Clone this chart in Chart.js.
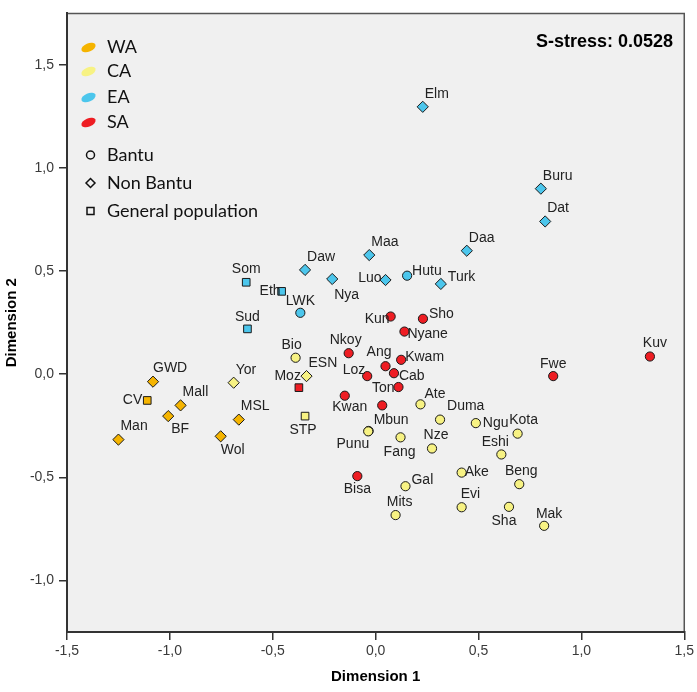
<!DOCTYPE html>
<html>
<head>
<meta charset="utf-8">
<script src="https://cdn.jsdelivr.net/npm/chart.js@4"></script>
<style>body{margin:0;background:#fff}</style>
</head>
<body>
<canvas id="mds" width="697" height="692"></canvas>
<script>
// Datos MDS: Dimension 1 (x), Dimension 2 (y); tipo B = Bantu, N = Non Bantu, G = General population
const waNames = ['GWD', 'CV', 'Mall', 'BF', 'Man', 'Wol', 'MSL'];
const waX = [-1.082, -1.110, -0.948, -1.008, -1.250, -0.753, -0.665];
const waY = [-0.036, -0.127, -0.151, -0.203, -0.317, -0.301, -0.220];
const waType = ['N', 'G', 'N', 'N', 'N', 'N', 'N'];

const caNames = ['Yor', 'ESN', 'Bio', 'STP', 'Ate', 'Duma', 'Ngu', 'Kota', 'Mbun', 'Punu', 'Fang', 'Nze', 'Eshi', 'Ake', 'Beng', 'Gal', 'Evi', 'Sha', 'Mits', 'Mak'];
const caX = [-0.690, -0.336, -0.389, -0.343, 0.218, 0.313, 0.487, 0.690, -0.034, -0.036, 0.121, 0.274, 0.611, 0.418, 0.698, 0.145, 0.418, 0.648, 0.097, 0.819];
const caY = [-0.041, -0.009, 0.080, -0.203, -0.146, -0.220, -0.237, -0.288, -0.275, -0.277, -0.306, -0.360, -0.389, -0.477, -0.533, -0.543, -0.645, -0.643, -0.683, -0.735];
const caType = ['N', 'N', 'B', 'G', 'B', 'B', 'B', 'B', 'B', 'B', 'B', 'B', 'B', 'B', 'B', 'B', 'B', 'B', 'B', 'B'];

const eaNames = ['Elm', 'Buru', 'Dat', 'Daa', 'Maa', 'Luo', 'Hutu', 'Turk', 'Nya', 'Daw', 'Som', 'Eth', 'LWK', 'Sud'];
const eaX = [0.229, 0.803, 0.824, 0.443, -0.031, 0.048, 0.153, 0.317, -0.211, -0.343, -0.629, -0.457, -0.366, -0.623];
const eaY = [1.297, 0.900, 0.741, 0.599, 0.578, 0.457, 0.478, 0.438, 0.462, 0.506, 0.446, 0.402, 0.298, 0.220];
const eaType = ['N', 'N', 'N', 'N', 'N', 'N', 'B', 'N', 'N', 'N', 'G', 'G', 'B', 'G'];

const saNames = ['Kun', 'Sho', 'Nyane', 'Nkoy', 'Ang', 'Kwam', 'Loz', 'Cab', 'Ton', 'Kwan', '', 'Bisa', 'Fwe', 'Kuv', 'Moz'];
const saX = [0.073, 0.230, 0.140, -0.131, 0.048, 0.124, -0.041, 0.089, 0.111, -0.150, 0.032, -0.089, 0.863, 1.333, -0.373];
const saY = [0.280, 0.269, 0.207, 0.102, 0.039, 0.070, -0.009, 0.005, -0.062, -0.104, -0.151, -0.494, -0.009, 0.086, -0.065];
const saType = ['B', 'B', 'B', 'B', 'B', 'B', 'B', 'B', 'B', 'B', 'B', 'B', 'B', 'B', 'G'];

const regionNames = ['WA', 'CA', 'EA', 'SA'];
const groupNames = ['Bantu', 'Non Bantu', 'General population'];
const xTicks = [-1.5, -1.0, -0.5, 0.0, 0.5, 1.0, 1.5];
const yTicks = [-1.0, -0.5, 0.0, 0.5, 1.0, 1.5];
const stressText = 'S-stress: 0.0528';

// estilos
const regionColors = ['#F5B400', '#F7F283', '#4CC6EC', '#EE1D23'];
const styleOf = { B: 'circle', N: 'rectRot', G: 'rect' };
const radiusOf = { B: 4.6, N: 5.6, G: 5.4 };

// posicion de etiquetas: [align, dx, dy]
const labelPlace = {
  Luo: ['right', -4, -2], Hutu: ['left', 5, -5], Turk: ['left', 7, -7], Nya: ['left', 2, 16],
  Som: ['center', 0, -13], Eth: ['right', -1, 0], LWK: ['center', 0, -12], Sud: ['center', 0, -12],
  GWD: ['left', 0, -14], CV: ['right', -5, 0], BF: ['left', 3, 13], Wol: ['left', 0, 14],
  Bio: ['center', -4, -13], Moz: ['right', 2, -12], STP: ['center', -2, 14],
  Kun: ['right', -1, 3], Sho: ['left', 6, -5], Nyane: ['left', 3, 3], Nkoy: ['center', -3, -13],
  Ang: ['right', 6, -14], Kwam: ['left', 4, -3], Loz: ['right', -2, -6], Cab: ['left', 5, 3],
  Ton: ['right', -4, 1], Kwan: ['center', 5, 11], Bisa: ['center', 0, 13], Fwe: ['center', 0, -12],
  Kuv: ['center', 5, -13], Ate: ['left', 4, -10], Duma: ['left', 7, -13], Mbun: ['left', 5, -11],
  Punu: ['right', 1, 13], Fang: ['center', -1, 15], Nze: ['center', 4, -13], Ngu: ['left', 7, 0],
  Kota: ['center', 6, -13], Eshi: ['center', -6, -12], Ake: ['left', 3, 0], Beng: ['center', 2, -13],
  Gal: ['left', 6, -6], Evi: ['left', -1, -13], Sha: ['center', -5, 14], Mits: ['center', 4, -13],
  Mak: ['center', 5, -12]
};

function makeSet(label, names, xs, ys, types, color) {
  return {
    label: label,
    names: names,
    data: xs.map((x, i) => ({ x: x, y: ys[i] })),
    backgroundColor: color,
    borderColor: '#1a1a1a',
    borderWidth: 1,
    pointStyle: ctx => styleOf[types[ctx.dataIndex]],
    pointRadius: ctx => radiusOf[types[ctx.dataIndex]]
  };
}

const fmt = v => {
  const s = Math.abs(v) < 1e-9 ? '0,0' : v.toFixed(1).replace('.', ',');
  return s;
};

const mdsPlugin = {
  id: 'mds',
  beforeDraw(chart) {
    const { ctx, chartArea: a } = chart;
    ctx.save();
    ctx.fillStyle = '#F0F0F0';
    ctx.fillRect(a.left, a.top, a.right - a.left, a.bottom - a.top);
    ctx.strokeStyle = '#555';
    ctx.lineWidth = 1.5;
    ctx.beginPath();
    ctx.moveTo(a.left, a.top);
    ctx.lineTo(a.right, a.top);
    ctx.lineTo(a.right, a.bottom);
    ctx.stroke();
    ctx.restore();
  },
  afterDatasetsDraw(chart) {
    const { ctx } = chart;
    ctx.save();
    // etiquetas de puntos
    ctx.font = '14px "Liberation Sans", Arial, sans-serif';
    ctx.fillStyle = '#222';
    ctx.textBaseline = 'middle';
    chart.data.datasets.forEach((ds, di) => {
      chart.getDatasetMeta(di).data.forEach((pt, i) => {
        const name = ds.names[i];
        if (!name) return;
        const p = labelPlace[name] || ['left', 2, -13];
        ctx.textAlign = p[0];
        ctx.fillText(name, pt.x + p[1], pt.y + p[2]);
      });
    });

    // leyenda
    ctx.font = '18px Lato, "Open Sans", sans-serif';
    ctx.textAlign = 'left';
    ctx.fillStyle = '#111';
    const rowY = [47, 71, 97, 122];
    regionNames.forEach((n, i) => {
      ctx.save();
      ctx.fillStyle = regionColors[i];
      ctx.beginPath();
      ctx.ellipse(88.5, rowY[i] + 0.5, 7.5, 4.2, -0.4, 0, Math.PI * 2);
      ctx.fill();
      ctx.restore();
      ctx.fillText(n, 107, rowY[i]);
    });
    const gY = [155, 183, 211];
    ctx.strokeStyle = '#111';
    ctx.lineWidth = 1.5;
    ctx.beginPath();
    ctx.arc(90.5, gY[0], 4, 0, Math.PI * 2);
    ctx.stroke();
    ctx.beginPath();
    ctx.moveTo(86, gY[1]); ctx.lineTo(90.5, gY[1] - 4.5); ctx.lineTo(95, gY[1]); ctx.lineTo(90.5, gY[1] + 4.5); ctx.closePath();
    ctx.stroke();
    ctx.strokeRect(87, gY[2] - 3.5, 7, 7);
    groupNames.forEach((n, i) => ctx.fillText(n, 107, gY[i]));

    // s-stress
    ctx.font = 'bold 18px "Liberation Sans", Arial, sans-serif';
    ctx.textAlign = 'right';
    ctx.fillStyle = '#000';
    ctx.fillText(stressText, 673, 42);
    ctx.restore();
  }
};

new Chart(document.getElementById('mds'), {
  type: 'scatter',
  data: {
    datasets: [
      makeSet('WA', waNames, waX, waY, waType, regionColors[0]),
      makeSet('CA', caNames, caX, caY, caType, regionColors[1]),
      makeSet('EA', eaNames, eaX, eaY, eaType, regionColors[2]),
      makeSet('SA', saNames, saX, saY, saType, regionColors[3])
    ]
  },
  options: {
    responsive: false,
    animation: false,
    layout: { padding: { left: 0, top: 12, right: 10, bottom: 0 } },
    plugins: { legend: { display: false }, tooltip: { enabled: false } },
    scales: {
      x: {
        min: -1.5, max: 1.5,
        afterFit: s => { s.height = 60; },
        afterBuildTicks: s => { s.ticks = xTicks.map(v => ({ value: v })); },
        grid: { drawOnChartArea: false, tickLength: 8, color: '#333', lineWidth: 1.5 },
        border: { display: true, color: '#333', width: 2 },
        ticks: { callback: v => fmt(v), color: '#3a3a3a', padding: 3, maxRotation: 0, font: { family: '"Liberation Sans", Arial, sans-serif', size: 14 } },
        title: { display: true, text: 'Dimension 1', color: '#000', padding: { top: 0, bottom: 6 }, font: { family: '"Liberation Sans", Arial, sans-serif', size: 15, weight: 'bold' } }
      },
      y: {
        min: -1.25, max: 1.75,
        afterFit: s => { s.width = 67; },
        afterBuildTicks: s => { s.ticks = yTicks.map(v => ({ value: v })); },
        grid: { drawOnChartArea: false, tickLength: 8, color: '#333', lineWidth: 1.5 },
        border: { display: true, color: '#333', width: 2 },
        ticks: { callback: v => fmt(v), color: '#3a3a3a', padding: 5, font: { family: '"Liberation Sans", Arial, sans-serif', size: 14 } },
        title: { display: true, text: 'Dimension 2', color: '#000', padding: { top: 3, bottom: 0 }, font: { family: '"Liberation Sans", Arial, sans-serif', size: 15, weight: 'bold' } }
      }
    }
  },
  plugins: [mdsPlugin]
});
</script>
</body>
</html>
